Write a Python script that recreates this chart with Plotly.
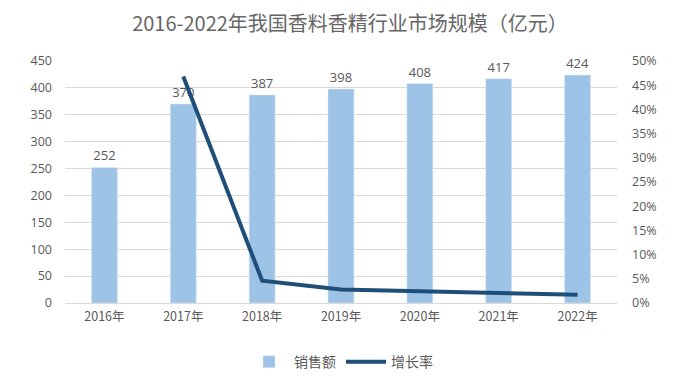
import plotly.graph_objects as go

years = ["2016年", "2017年", "2018年", "2019年", "2020年", "2021年", "2022年"]
sales = [252, 370, 387, 398, 408, 417, 424]
growth_years = ["2017年", "2018年", "2019年", "2020年", "2021年", "2022年"]
growth = [0.468, 0.046, 0.028, 0.025, 0.022, 0.017]
left_ticks = [0, 50, 100, 150, 200, 250, 300, 350, 400, 450]
right_ticks = [0, 0.05, 0.10, 0.15, 0.20, 0.25, 0.30, 0.35, 0.40, 0.45, 0.50]

font_family = "Noto Sans CJK SC, Noto Sans, sans-serif"
grey = "#595959"

fig = go.Figure()
fig.add_trace(go.Bar(
    x=years, y=sales, name="销售额",
    marker_color="#9dc3e6", width=0.33,
    text=[str(v) for v in sales], textposition="outside",
    textfont=dict(size=13, color=grey, family="Open Sans, sans-serif"),
    cliponaxis=False,
))
fig.add_trace(go.Scatter(
    x=growth_years, y=growth, name="增长率", yaxis="y2",
    mode="lines", line=dict(color="#1f4e79", width=4),
))

fig.update_layout(
    width=684, height=374,
    margin=dict(l=57, r=75, t=53, b=79, autoexpand=False),
    paper_bgcolor="white", plot_bgcolor="white",
    title=dict(text="2016-2022年我国香料香精行业市场规模（亿元）",
               x=0.5, xanchor="center", y=0.958, yanchor="middle",
               font=dict(size=20, color="#666666", family=font_family)),
    bargap=0.67,
    xaxis=dict(tickfont=dict(size=12.5, color=grey, family=font_family),
               showline=False, showgrid=False, ticks="", ticklabelstandoff=4,
               automargin=False),
    yaxis=dict(range=[0, 450], tickvals=left_ticks,
               tickfont=dict(size=12.5, color=grey, family="Open Sans, sans-serif"),
               gridcolor="#d9d9d9", gridwidth=1, zeroline=True,
               zerolinecolor="#d9d9d9", zerolinewidth=1,
               ticklabelstandoff=12, automargin=False),
    yaxis2=dict(range=[0, 0.5], tickvals=right_ticks, tickformat=".0%",
                overlaying="y", side="right", showgrid=False, zeroline=False,
                tickfont=dict(size=12.5, color=grey, family="Open Sans, sans-serif"),
                ticklabelstandoff=14, automargin=False),
    legend=dict(orientation="h", x=0.5, xanchor="center",
                yref="container", y=0.053, yanchor="middle",
                font=dict(size=14, color=grey, family=font_family),
                itemwidth=40),
    showlegend=True,
)

fig.write_html("out.html")
